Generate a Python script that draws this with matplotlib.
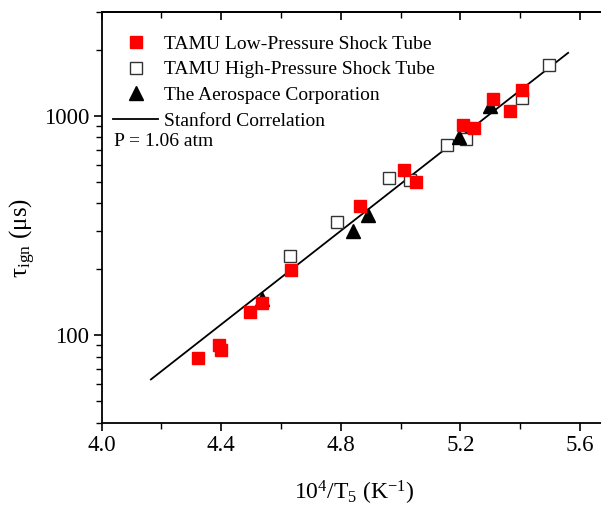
import matplotlib
matplotlib.use("Agg")
import matplotlib.pyplot as plt
from matplotlib.ticker import FixedLocator, NullFormatter, LogLocator

plt.rcParams['font.family'] = ['Liberation Serif', 'DejaVu Serif']
plt.rcParams['mathtext.fontset'] = 'custom'
plt.rcParams['mathtext.rm'] = 'Liberation Serif'
plt.rcParams['mathtext.it'] = 'Liberation Serif:italic'

# ============================
# Data
# ============================
low_x = [4.322, 4.394, 4.400, 4.495, 4.538, 4.635, 4.863, 5.010, 5.050,
         5.208, 5.245, 5.308, 5.365, 5.406]
low_y = [79, 90, 86, 128, 140, 198, 388, 571, 503, 909, 887, 1192, 1054, 1314]

high_x = [4.631, 4.787, 4.960, 5.030, 5.155, 5.217, 5.406, 5.496]
high_y = [231, 330, 521, 510, 737, 791, 1205, 1710]

aero_x = [4.538, 4.841, 4.891, 5.194, 5.300]
aero_y = [147, 298, 356, 805, 1111]

stanford_x = [4.165, 5.560]
stanford_y = [63, 1946]

x_ticks = [4.0, 4.4, 4.8, 5.2, 5.6]
x_minor = [4.2, 4.6, 5.0, 5.4]

fig = plt.figure(figsize=(6.01, 5.05), dpi=100)
ax = fig.add_axes([0.169, 0.163, 0.842, 0.814])

ax.plot(stanford_x, stanford_y, '-', color='black', linewidth=1.3,
        label='Stanford Correlation', zorder=2)
ax.plot(high_x, high_y, 's', markersize=9, markerfacecolor='white',
        markeredgecolor='#333333', markeredgewidth=1.0, linestyle='none',
        label='TAMU High-Pressure Shock Tube', zorder=3)
ax.plot(aero_x, aero_y, '^', markersize=10.5, color='black', linestyle='none',
        label='The Aerospace Corporation', zorder=3)
ax.plot(low_x, low_y, 's', markersize=9, color='#ff0000', linestyle='none',
        label='TAMU Low-Pressure Shock Tube', zorder=4)

ax.set_yscale('log')
ax.set_xlim(4.0, 5.692)
ax.set_ylim(40, 3000)

ax.xaxis.set_major_locator(FixedLocator(x_ticks))
ax.xaxis.set_minor_locator(FixedLocator(x_minor))
ax.set_xticklabels(['4.0', '4.4', '4.8', '5.2', '5.6'])
ax.yaxis.set_major_locator(FixedLocator([100, 1000]))
ax.set_yticklabels(['100', '1000'])
ax.yaxis.set_minor_locator(LogLocator(base=10, subs=range(2, 10)))
ax.yaxis.set_minor_formatter(NullFormatter())

ax.tick_params(axis='both', which='major', labelsize=16.5, width=1.2)
ax.tick_params(axis='both', which='both', direction='out')
ax.tick_params(axis='both', which='major', length=6, pad=3)
ax.tick_params(axis='both', which='minor', length=4, width=1.0)
for sp in ax.spines.values():
    sp.set_linewidth(1.3)

# top ticks point into the plot
top = ax.secondary_xaxis('top')
top.xaxis.set_major_locator(FixedLocator(x_ticks))
top.xaxis.set_minor_locator(FixedLocator(x_minor))
top.tick_params(which='both', direction='in', labeltop=False)
top.tick_params(which='major', length=6, width=1.2)
top.tick_params(which='minor', length=4, width=1.0)
top.spines['top'].set_linewidth(1.3)

ax.set_xlabel(r'10$^{4}$/T$_{5}$ (K$^{-1}$)', fontsize=17, labelpad=16)
ax.set_ylabel(r'τ$_{\rm ign}$ (μs)', fontsize=18)
ax.yaxis.set_label_coords(-0.125, 0.45)

handles, labels = ax.get_legend_handles_labels()
order = [3, 1, 2, 0]
ax.legend([handles[i] for i in order], [labels[i] for i in order],
          loc='upper left', bbox_to_anchor=(0.022, 0.943), frameon=False,
          fontsize=14, handlelength=2.35, handletextpad=0.3,
          labelspacing=0.42, borderaxespad=0, borderpad=0)

ax.text(0.025, 0.685, 'P = 1.06 atm', transform=ax.transAxes, fontsize=14,
        ha='left', va='center')

fig.savefig('out.png', dpi=100)
